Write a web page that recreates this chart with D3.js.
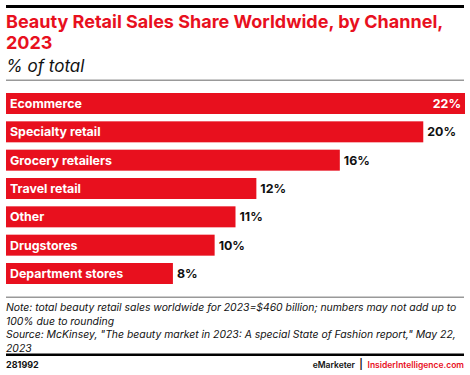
<!DOCTYPE html>
<html>
<head>
<meta charset="utf-8">
<script src="https://cdn.jsdelivr.net/npm/d3@7"></script>
<style>
  body { margin: 0; background: #fff; }
  svg { display: block; font-family: Inter, "Noto Sans", sans-serif; }
</style>
</head>
<body>
<svg id="chart" width="470" height="375"></svg>
<script>
var channels = ["Ecommerce", "Specialty retail", "Grocery retailers", "Travel retail", "Other", "Drugstores", "Department stores"]
var shares = [22, 20, 16, 12, 11, 10, 8]
var noteLines = [
    "Note: total beauty retail sales worldwide for 2023=$460 billion; numbers may not add up to",
    "100% due to rounding",
    "Source: McKinsey, \"The beauty market in 2023: A special State of Fashion report,\" May 22,",
    "2023"
]

var left = 6, right = 465
var red = "#e8101e"
var svg = d3.select("#chart")

// shrink a text until it fits a width
function fitText(sel, maxW) {
    var node = sel.node()
    var fs = +sel.attr("font-size")
    while (node.getComputedTextLength() > maxW && fs > 6) {
        fs -= 0.1
        sel.attr("font-size", fs)
    }
}

// header
svg.append("rect").attr("x", left).attr("y", 5).attr("width", right - left - 1).attr("height", 3).attr("fill", "#000")
var t1 = svg.append("text").attr("x", left).attr("y", 28)
    .attr("font-size", 18).attr("font-weight", 700).attr("fill", red)
    .text("Beauty Retail Sales Share Worldwide, by Channel,")
fitText(t1, 446)
svg.append("text").attr("x", left).attr("y", 49)
    .attr("font-size", t1.attr("font-size")).attr("font-weight", 700).attr("fill", red)
    .text("2023")
svg.append("text").attr("x", left).attr("y", 72)
    .attr("font-size", 17).attr("font-style", "italic").attr("fill", "#111")
    .text("% of total")
svg.append("rect").attr("x", left).attr("y", 79.5).attr("width", right - left - 1).attr("height", 1.5).attr("fill", "#999")

// bars
var data = channels.map(function (c, i) { return { name: c, value: shares[i] } })

var xScale = d3.scaleLinear()
    .domain([0, d3.max(shares)])
    .range([left, right])

var yScale = d3.scaleBand()
    .domain(channels)
    .range([93, 284])
    .paddingInner(0.259)
    .paddingOuter(0)

var rows = svg.append("g").selectAll("g")
    .data(data)
    .enter().append("g")

rows.append("rect")
    .attr("x", xScale(0))
    .attr("y", function (d) { return yScale(d.name) })
    .attr("width", function (d) { return xScale(d.value) - xScale(0) })
    .attr("height", yScale.bandwidth())
    .attr("fill", red)

rows.append("text")
    .attr("x", left + 4)
    .attr("y", function (d) { return yScale(d.name) + yScale.bandwidth() / 2 })
    .attr("dy", "0.36em")
    .attr("font-size", 12.4)
    .attr("font-weight", 700)
    .attr("fill", "#fff")
    .text(function (d) { return d.name })

var maxV = d3.max(shares)
rows.append("text")
    .attr("x", function (d) { return d.value === maxV ? xScale(d.value) - 4 : xScale(d.value) + 4 })
    .attr("y", function (d) { return yScale(d.name) + yScale.bandwidth() / 2 })
    .attr("dy", "0.36em")
    .attr("text-anchor", function (d) { return d.value === maxV ? "end" : "start" })
    .attr("font-size", 12.4)
    .attr("font-weight", 700)
    .attr("fill", function (d) { return d.value === maxV ? "#fff" : "#111" })
    .text(function (d) { return d.value + "%" })

// notes
svg.append("rect").attr("x", left).attr("y", 296.5).attr("width", right - left - 1).attr("height", 1.5).attr("fill", "#999")
var notes = svg.append("g").selectAll("text")
    .data(noteLines)
    .enter().append("text")
    .attr("x", left)
    .attr("y", function (d, i) { return 311 + i * 13.5 })
    .attr("font-size", 11.5)
    .attr("font-style", "italic")
    .attr("fill", "#111")
    .text(function (d) { return d })
var n0 = d3.select(notes.nodes()[0])
fitText(n0, 451)
notes.attr("font-size", n0.attr("font-size"))

// footer
svg.append("rect").attr("x", left).attr("y", 353.5).attr("width", right - left - 1).attr("height", 2.5).attr("fill", "#000")
svg.append("text").attr("x", left).attr("y", 368)
    .attr("font-size", 9).attr("font-weight", 700).attr("fill", "#111")
    .text("281992")
var site = svg.append("text").attr("x", right - 1).attr("y", 368)
    .attr("text-anchor", "end").attr("font-size", 10).attr("font-weight", 600)
    .attr("fill", red).text("InsiderIntelligence.com")
fitText(site, 97)
svg.append("text").attr("x", 361).attr("y", 368)
    .attr("text-anchor", "middle").attr("font-size", 10).attr("font-weight", 600)
    .attr("fill", "#111").text("|")
svg.append("text").attr("x", 355).attr("y", 368)
    .attr("text-anchor", "end").attr("font-size", site.attr("font-size")).attr("font-weight", 600)
    .attr("fill", "#111").text("eMarketer")
</script>
</body>
</html>
